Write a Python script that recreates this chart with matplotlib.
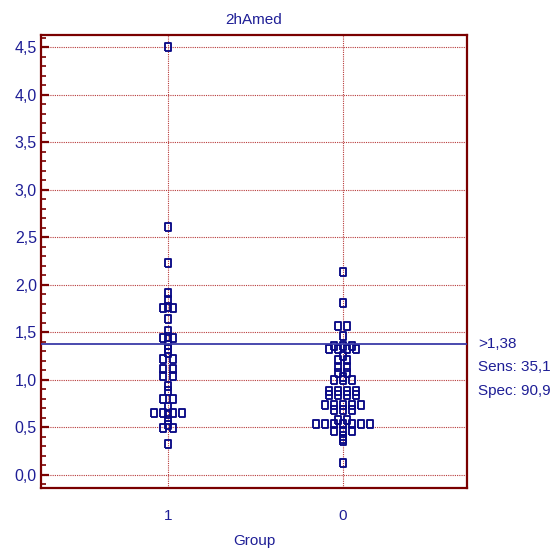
import matplotlib
matplotlib.use("Agg")
import matplotlib.pyplot as plt
from matplotlib.ticker import MultipleLocator, FuncFormatter
from collections import Counter

# ---------------- data ----------------
title = "2hAmed"
xlabel = "Group"
categories = ["1", "0"]
group1_values = [4.50, 2.61, 2.23, 1.91, 1.84, 1.77, 1.76, 1.76, 1.64, 1.51, 1.45, 1.44, 1.44,
                 1.37, 1.33, 1.28, 1.22, 1.22, 1.12, 1.12, 1.04, 1.04, 0.94, 0.88, 0.80, 0.80,
                 0.72, 0.65, 0.65, 0.65, 0.65, 0.64, 0.58, 0.53, 0.49, 0.49, 0.33]
group0_values = [2.14, 1.81, 1.57, 1.57, 1.46,
                 1.36, 1.36, 1.36, 1.33, 1.33, 1.33, 1.33, 1.25, 1.21, 1.21, 1.14, 1.14,
                 1.07, 1.07, 1.03, 1.00, 1.00, 1.00, 0.88, 0.88, 0.88, 0.88,
                 0.84, 0.84, 0.84, 0.84, 0.74, 0.74, 0.74, 0.74, 0.74, 0.68, 0.68, 0.68,
                 0.58, 0.58, 0.54, 0.54, 0.54, 0.54, 0.54, 0.54, 0.54,
                 0.46, 0.46, 0.46, 0.41, 0.38, 0.36, 0.13]
cutoff = 1.38
y_ticks = [0.0, 0.5, 1.0, 1.5, 2.0, 2.5, 3.0, 3.5, 4.0, 4.5]

# ---------------- style ----------------
navy = "#1e1e96"
mark_col = "#0a0a86"
spine_col = "#7a0000"
grid_col = "#b83a3a"
line_col = "#3a3aa8"
FONT = ["Liberation Sans", "DejaVu Sans"]
plt.rcParams["font.family"] = FONT

fig = plt.figure(figsize=(5.54, 5.50), dpi=100)
W, H = 554, 550
ax = fig.add_axes([41 / W, 1 - 488 / H, (467 - 41) / W, (488 - 35) / H])

step = 0.052
rect = [(-0.75, -1), (0.75, -1), (0.75, 1), (-0.75, 1), (-0.75, -1)]


def swarm(values, center):
    counts = Counter(values)
    seen = Counter()
    xs, ys = [], []
    for v in values:
        n = counts[v]
        i = seen[v]
        seen[v] += 1
        xs.append(center + (i - (n - 1) / 2) * step)
        ys.append(v)
    return xs, ys


positions = [1, 2]
for pos, vals in zip(positions, [group1_values, group0_values]):
    xs, ys = swarm(vals, pos)
    ax.plot(xs, ys, linestyle="none", marker=rect, markersize=5.8,
            markerfacecolor="none", markeredgecolor=mark_col, markeredgewidth=1.35,
            zorder=4)

# grid
for yv in y_ticks:
    ax.axhline(yv, color=grid_col, lw=0.8, ls=(0, (1, 1)), zorder=1)
for pos in positions:
    ax.axvline(pos, color=grid_col, lw=0.8, ls=(0, (1, 1)), zorder=1)

ax.axhline(cutoff, color=line_col, lw=1.3, zorder=5)

ax.set_xlim(0.274, 2.71)
ax.set_ylim(-0.137, 4.63)

ax.set_xticks(positions)
ax.set_xticklabels(categories)
ax.tick_params(axis="x", length=0, pad=15, labelsize=11, labelcolor=navy)

ax.yaxis.set_major_locator(MultipleLocator(0.5))
ax.yaxis.set_minor_locator(MultipleLocator(0.1))
ax.yaxis.set_major_formatter(FuncFormatter(lambda v, p: f"{v:.1f}".replace(".", ",")))
ax.tick_params(axis="y", which="major", direction="in", length=6, width=1.6,
               color=spine_col, labelsize=11.5, labelcolor=navy, pad=3)
ax.tick_params(axis="y", which="minor", direction="in", length=3.8, width=1.2,
               color=spine_col)

for s in ax.spines.values():
    s.set_color(spine_col)
    s.set_linewidth(1.6)

ax.set_title(title, color=navy, fontsize=11, pad=8)
ax.set_xlabel(xlabel, color=navy, fontsize=11, labelpad=8)

# sensitivity / specificity
sens = 100 * sum(v > cutoff for v in group1_values) / len(group1_values)
spec = 100 * sum(v <= cutoff for v in group0_values) / len(group0_values)
lines = [">" + f"{cutoff:.2f}".replace(".", ","),
         "Sens: " + f"{sens:.1f}".replace(".", ","),
         "Spec: " + f"{spec:.1f}".replace(".", ",")]
trans = ax.get_yaxis_transform()
for k, t in enumerate(lines):
    ax.annotate(t, xy=(1.0, cutoff), xycoords=trans,
                xytext=(8, -k * 17), textcoords="offset points",
                ha="left", va="center", color=navy, fontsize=11,
                annotation_clip=False)

fig.savefig("out.png", dpi=100)
